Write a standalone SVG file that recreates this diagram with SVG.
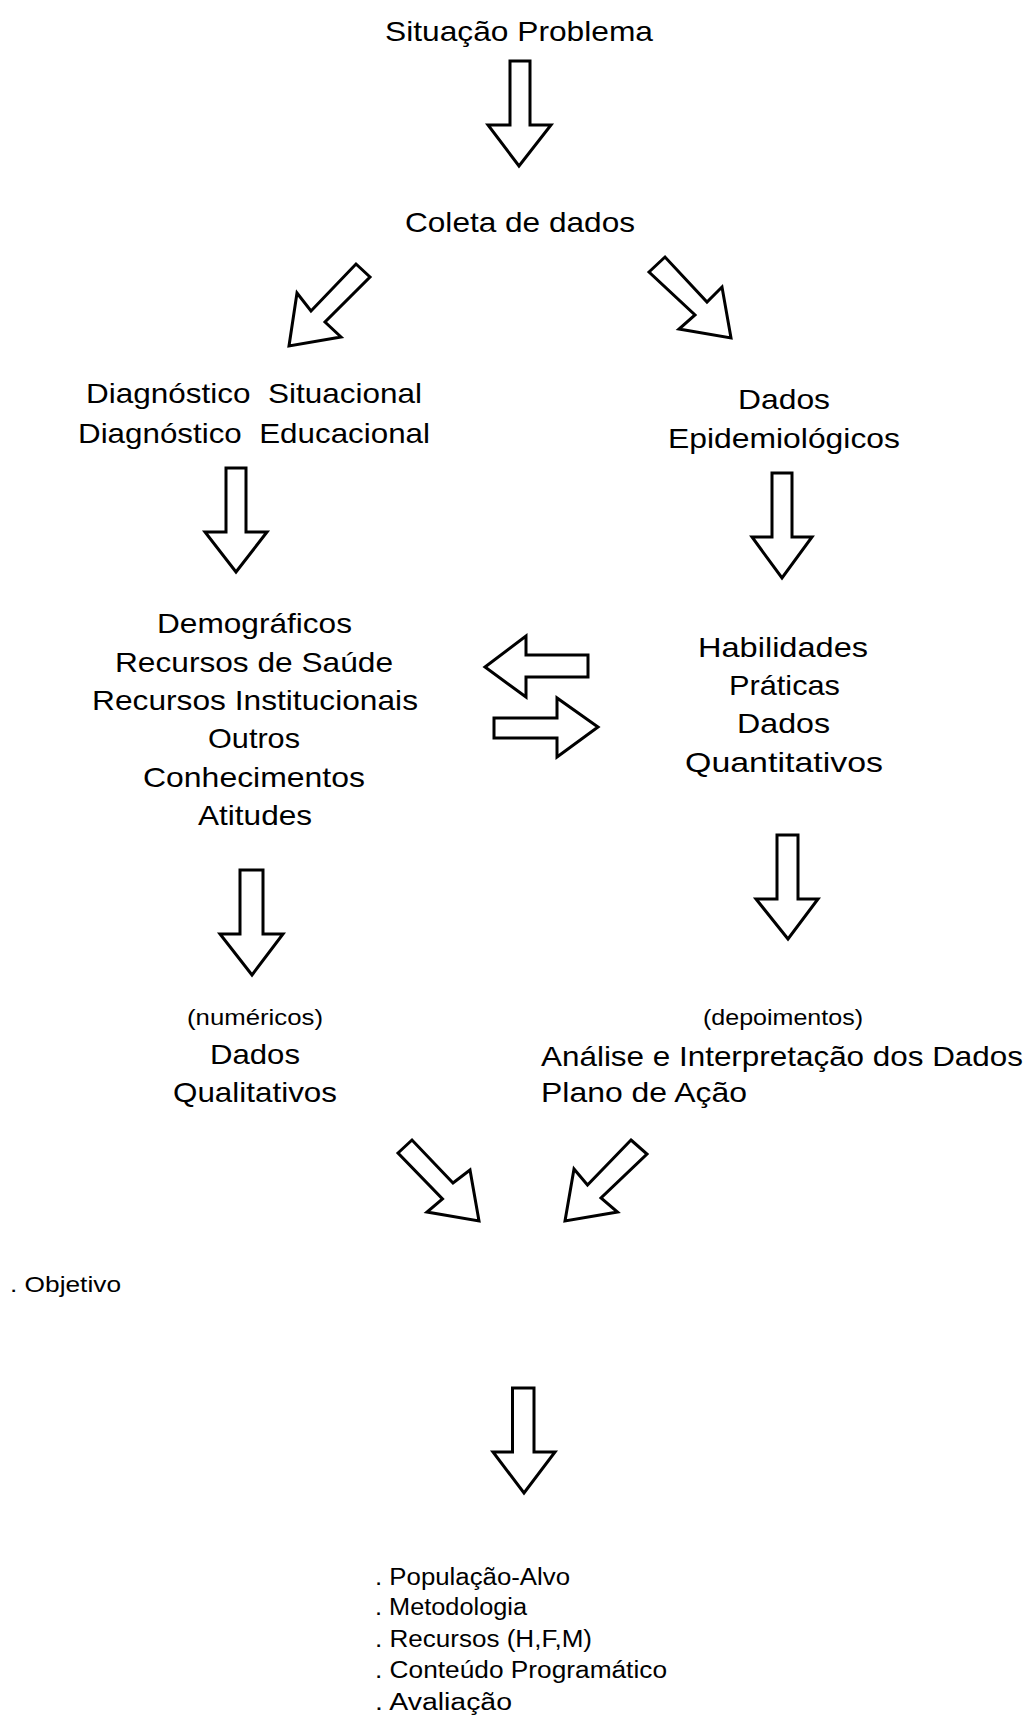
<svg xmlns="http://www.w3.org/2000/svg" width="1034" height="1716" viewBox="0 0 1034 1716">
  <style>
    text { font-family: "Liberation Sans", Arial, sans-serif; fill: #000; }
    .t { font-size: 28px; }
    .s { font-size: 22.5px; }
    .l { font-size: 23px; }
    .arrow { fill: #fff; stroke: #000; stroke-width: 3; stroke-linejoin: miter; }
  </style>
  <rect width="1034" height="1716" fill="#fff"/>

  <g id="situacao-problema">
    <text class="t" x="385" y="41" textLength="268" lengthAdjust="spacingAndGlyphs">Situação Problema</text>
  </g>

  <g id="coleta-de-dados">
    <text class="t" x="405" y="232" textLength="230" lengthAdjust="spacingAndGlyphs">Coleta de dados</text>
  </g>

  <g id="diagnostico">
    <text class="t" x="86" y="403" textLength="336" lengthAdjust="spacingAndGlyphs" style="white-space:pre">Diagnóstico  Situacional</text>
    <text class="t" x="78" y="443" textLength="352" lengthAdjust="spacingAndGlyphs" style="white-space:pre">Diagnóstico  Educacional</text>
  </g>

  <g id="dados-epidemiologicos">
    <text class="t" x="738" y="409" textLength="92" lengthAdjust="spacingAndGlyphs">Dados</text>
    <text class="t" x="668" y="448" textLength="232" lengthAdjust="spacingAndGlyphs">Epidemiológicos</text>
  </g>

  <g id="demograficos">
    <text class="t" x="157" y="633" textLength="195" lengthAdjust="spacingAndGlyphs">Demográficos</text>
    <text class="t" x="115" y="672" textLength="278" lengthAdjust="spacingAndGlyphs">Recursos de Saúde</text>
    <text class="t" x="92" y="710" textLength="326" lengthAdjust="spacingAndGlyphs">Recursos Institucionais</text>
    <text class="t" x="208" y="748" textLength="92" lengthAdjust="spacingAndGlyphs">Outros</text>
    <text class="t" x="143" y="787" textLength="222" lengthAdjust="spacingAndGlyphs">Conhecimentos</text>
    <text class="t" x="198" y="825" textLength="114" lengthAdjust="spacingAndGlyphs">Atitudes</text>
  </g>

  <g id="habilidades">
    <text class="t" x="698" y="657" textLength="170" lengthAdjust="spacingAndGlyphs">Habilidades</text>
    <text class="t" x="729" y="695" textLength="111" lengthAdjust="spacingAndGlyphs">Práticas</text>
    <text class="t" x="737" y="733" textLength="93" lengthAdjust="spacingAndGlyphs">Dados</text>
    <text class="t" x="685" y="772" textLength="198" lengthAdjust="spacingAndGlyphs">Quantitativos</text>
  </g>

  <g id="dados-qualitativos">
    <text class="s" x="187" y="1025" textLength="136" lengthAdjust="spacingAndGlyphs">(numéricos)</text>
    <text class="t" x="210" y="1064" textLength="90" lengthAdjust="spacingAndGlyphs">Dados</text>
    <text class="t" x="173" y="1102" textLength="164" lengthAdjust="spacingAndGlyphs">Qualitativos</text>
  </g>

  <g id="analise">
    <text class="s" x="703" y="1025" textLength="160" lengthAdjust="spacingAndGlyphs">(depoimentos)</text>
    <text class="t" x="541" y="1066" textLength="482" lengthAdjust="spacingAndGlyphs">Análise e Interpretação dos Dados</text>
    <text class="t" x="541" y="1102" textLength="206" lengthAdjust="spacingAndGlyphs">Plano de Ação</text>
  </g>

  <g id="objetivo">
    <text class="s" x="10" y="1292" textLength="111" lengthAdjust="spacingAndGlyphs">. Objetivo</text>
  </g>

  <g id="plano-itens">
    <text class="l" x="375" y="1585" textLength="195" lengthAdjust="spacingAndGlyphs">. População-Alvo</text>
    <text class="l" x="375" y="1615" textLength="152" lengthAdjust="spacingAndGlyphs">. Metodologia</text>
    <text class="l" x="375" y="1647" textLength="217" lengthAdjust="spacingAndGlyphs">. Recursos (H,F,M)</text>
    <text class="l" x="375" y="1678" textLength="292" lengthAdjust="spacingAndGlyphs">. Conteúdo Programático</text>
    <text class="l" x="375" y="1710" textLength="137" lengthAdjust="spacingAndGlyphs">. Avaliação</text>
  </g>

  <!-- hollow block arrows -->
  <g id="connectors">
    <polygon class="arrow" points="510,61 530,61 530,125 551,125 519,166 488,125 510,125"/>
    <polygon class="arrow" points="356,264 370,277 325,322 341,337 289,346 297,293 311,311"/>
    <polygon class="arrow" points="649,272 665,257 707,302 722,287 731,338 679,329 695,315"/>
    <polygon class="arrow" points="226,468 246,468 246,532 267,532 236,572 205,532 226,532"/>
    <polygon class="arrow" points="772,473 792,473 792,537 812,537 782,578 752,537 772,537"/>
    <polygon class="arrow" points="588,655 526,655 526,636 485,667 526,697 526,677 588,677"/>
    <polygon class="arrow" points="494,718 557,718 557,698 598,727 557,757 557,738 494,738"/>
    <polygon class="arrow" points="240,870 263,870 263,934 283,934 252,975 220,934 240,934"/>
    <polygon class="arrow" points="777,835 798,835 798,899 818,899 788,939 756,899 777,899"/>
    <polygon class="arrow" points="398,1153 412,1140 453,1183 470,1170 479,1221 427,1212 442.5,1199"/>
    <polygon class="arrow" points="631,1140 647,1154 601,1198 617.5,1212 565,1221 574,1169 587.5,1185"/>
    <polygon class="arrow" points="512.5,1388 534,1388 534,1452 555,1452 524,1493 493,1452 512.5,1452"/>
  </g>
</svg>
